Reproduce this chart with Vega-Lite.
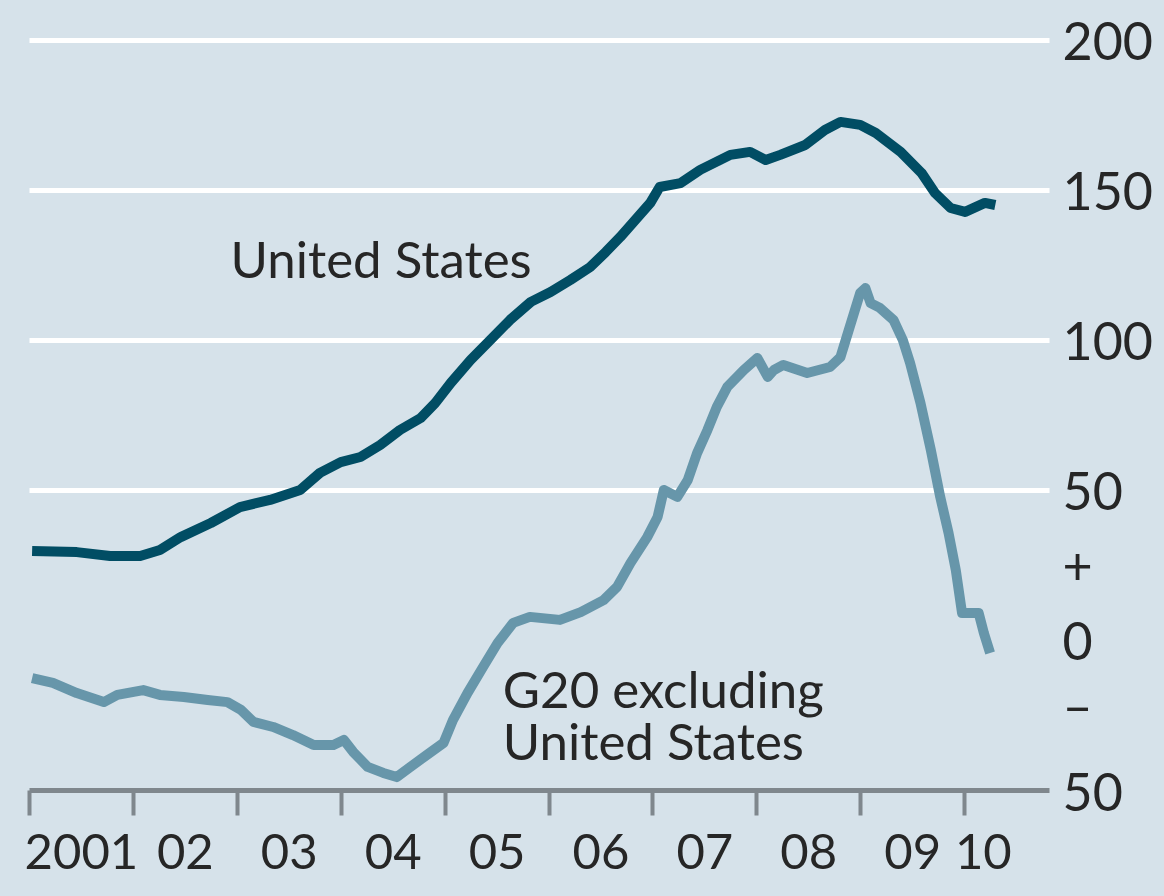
{
  "$schema": "https://vega.github.io/schema/vega-lite/v6.json",
  "width": 1020,
  "height": 790,
  "autosize": {"type": "none"},
  "padding": {"left": 29, "top": 0, "right": 115, "bottom": 106},
  "background": "#d6e2ea",
  "config": {"view": {"stroke": null}},
  "datasets": {
    "series": [
      {"series": "United States", "t": 2001.03, "v": 29.7},
      {"series": "United States", "t": 2001.46, "v": 29.3},
      {"series": "United States", "t": 2001.78, "v": 28.0},
      {"series": "United States", "t": 2002.07, "v": 28.0},
      {"series": "United States", "t": 2002.26, "v": 30.0},
      {"series": "United States", "t": 2002.46, "v": 34.3},
      {"series": "United States", "t": 2002.75, "v": 39.0},
      {"series": "United States", "t": 2003.03, "v": 44.3},
      {"series": "United States", "t": 2003.32, "v": 46.7},
      {"series": "United States", "t": 2003.61, "v": 50.0},
      {"series": "United States", "t": 2003.80, "v": 55.7},
      {"series": "United States", "t": 2004.00, "v": 59.3},
      {"series": "United States", "t": 2004.19, "v": 61.0},
      {"series": "United States", "t": 2004.38, "v": 65.0},
      {"series": "United States", "t": 2004.57, "v": 70.0},
      {"series": "United States", "t": 2004.77, "v": 74.0},
      {"series": "United States", "t": 2004.91, "v": 79.0},
      {"series": "United States", "t": 2005.06, "v": 85.7},
      {"series": "United States", "t": 2005.25, "v": 93.3},
      {"series": "United States", "t": 2005.44, "v": 100.0},
      {"series": "United States", "t": 2005.63, "v": 106.7},
      {"series": "United States", "t": 2005.83, "v": 112.7},
      {"series": "United States", "t": 2006.02, "v": 116.0},
      {"series": "United States", "t": 2006.21, "v": 120.0},
      {"series": "United States", "t": 2006.40, "v": 124.3},
      {"series": "United States", "t": 2006.55, "v": 129.3},
      {"series": "United States", "t": 2006.69, "v": 134.3},
      {"series": "United States", "t": 2006.98, "v": 145.7},
      {"series": "United States", "t": 2007.07, "v": 151.0},
      {"series": "United States", "t": 2007.27, "v": 152.3},
      {"series": "United States", "t": 2007.46, "v": 156.7},
      {"series": "United States", "t": 2007.75, "v": 161.7},
      {"series": "United States", "t": 2007.94, "v": 162.7},
      {"series": "United States", "t": 2008.09, "v": 160.0},
      {"series": "United States", "t": 2008.23, "v": 161.7},
      {"series": "United States", "t": 2008.47, "v": 165.0},
      {"series": "United States", "t": 2008.66, "v": 170.0},
      {"series": "United States", "t": 2008.81, "v": 172.7},
      {"series": "United States", "t": 2009.00, "v": 171.7},
      {"series": "United States", "t": 2009.15, "v": 169.0},
      {"series": "United States", "t": 2009.39, "v": 162.7},
      {"series": "United States", "t": 2009.59, "v": 155.7},
      {"series": "United States", "t": 2009.72, "v": 149.0},
      {"series": "United States", "t": 2009.87, "v": 144.0},
      {"series": "United States", "t": 2010.01, "v": 142.7},
      {"series": "United States", "t": 2010.11, "v": 144.3},
      {"series": "United States", "t": 2010.20, "v": 145.7},
      {"series": "United States", "t": 2010.30, "v": 145.0},
      {"series": "G20 excluding United States", "t": 2001.03, "v": -12.7},
      {"series": "G20 excluding United States", "t": 2001.23, "v": -14.3},
      {"series": "G20 excluding United States", "t": 2001.46, "v": -17.7},
      {"series": "G20 excluding United States", "t": 2001.72, "v": -20.7},
      {"series": "G20 excluding United States", "t": 2001.85, "v": -18.3},
      {"series": "G20 excluding United States", "t": 2002.10, "v": -16.7},
      {"series": "G20 excluding United States", "t": 2002.26, "v": -18.3},
      {"series": "G20 excluding United States", "t": 2002.49, "v": -19.0},
      {"series": "G20 excluding United States", "t": 2002.72, "v": -20.0},
      {"series": "G20 excluding United States", "t": 2002.91, "v": -20.7},
      {"series": "G20 excluding United States", "t": 2003.04, "v": -23.3},
      {"series": "G20 excluding United States", "t": 2003.16, "v": -27.3},
      {"series": "G20 excluding United States", "t": 2003.35, "v": -29.0},
      {"series": "G20 excluding United States", "t": 2003.54, "v": -31.7},
      {"series": "G20 excluding United States", "t": 2003.74, "v": -35.0},
      {"series": "G20 excluding United States", "t": 2003.93, "v": -35.0},
      {"series": "G20 excluding United States", "t": 2004.03, "v": -33.3},
      {"series": "G20 excluding United States", "t": 2004.12, "v": -37.3},
      {"series": "G20 excluding United States", "t": 2004.26, "v": -42.3},
      {"series": "G20 excluding United States", "t": 2004.41, "v": -44.3},
      {"series": "G20 excluding United States", "t": 2004.54, "v": -45.7},
      {"series": "G20 excluding United States", "t": 2004.67, "v": -42.3},
      {"series": "G20 excluding United States", "t": 2004.83, "v": -38.3},
      {"series": "G20 excluding United States", "t": 2004.99, "v": -34.3},
      {"series": "G20 excluding United States", "t": 2005.08, "v": -26.7},
      {"series": "G20 excluding United States", "t": 2005.22, "v": -17.7},
      {"series": "G20 excluding United States", "t": 2005.37, "v": -9.0},
      {"series": "G20 excluding United States", "t": 2005.51, "v": -1.0},
      {"series": "G20 excluding United States", "t": 2005.66, "v": 5.7},
      {"series": "G20 excluding United States", "t": 2005.82, "v": 7.7},
      {"series": "G20 excluding United States", "t": 2006.11, "v": 6.7},
      {"series": "G20 excluding United States", "t": 2006.31, "v": 9.3},
      {"series": "G20 excluding United States", "t": 2006.53, "v": 13.3},
      {"series": "G20 excluding United States", "t": 2006.66, "v": 17.7},
      {"series": "G20 excluding United States", "t": 2006.79, "v": 25.7},
      {"series": "G20 excluding United States", "t": 2006.95, "v": 34.3},
      {"series": "G20 excluding United States", "t": 2007.05, "v": 41.0},
      {"series": "G20 excluding United States", "t": 2007.11, "v": 50.0},
      {"series": "G20 excluding United States", "t": 2007.24, "v": 47.7},
      {"series": "G20 excluding United States", "t": 2007.34, "v": 53.3},
      {"series": "G20 excluding United States", "t": 2007.43, "v": 62.3},
      {"series": "G20 excluding United States", "t": 2007.53, "v": 70.0},
      {"series": "G20 excluding United States", "t": 2007.62, "v": 77.7},
      {"series": "G20 excluding United States", "t": 2007.72, "v": 84.3},
      {"series": "G20 excluding United States", "t": 2007.88, "v": 90.0},
      {"series": "G20 excluding United States", "t": 2008.01, "v": 94.0},
      {"series": "G20 excluding United States", "t": 2008.11, "v": 87.7},
      {"series": "G20 excluding United States", "t": 2008.17, "v": 90.0},
      {"series": "G20 excluding United States", "t": 2008.26, "v": 91.7},
      {"series": "G20 excluding United States", "t": 2008.49, "v": 89.0},
      {"series": "G20 excluding United States", "t": 2008.71, "v": 91.0},
      {"series": "G20 excluding United States", "t": 2008.81, "v": 94.3},
      {"series": "G20 excluding United States", "t": 2008.89, "v": 103.3},
      {"series": "G20 excluding United States", "t": 2009.00, "v": 115.7},
      {"series": "G20 excluding United States", "t": 2009.05, "v": 117.3},
      {"series": "G20 excluding United States", "t": 2009.10, "v": 112.3},
      {"series": "G20 excluding United States", "t": 2009.19, "v": 110.7},
      {"series": "G20 excluding United States", "t": 2009.32, "v": 106.7},
      {"series": "G20 excluding United States", "t": 2009.41, "v": 100.0},
      {"series": "G20 excluding United States", "t": 2009.48, "v": 92.3},
      {"series": "G20 excluding United States", "t": 2009.58, "v": 79.0},
      {"series": "G20 excluding United States", "t": 2009.68, "v": 63.3},
      {"series": "G20 excluding United States", "t": 2009.77, "v": 47.7},
      {"series": "G20 excluding United States", "t": 2009.85, "v": 35.7},
      {"series": "G20 excluding United States", "t": 2009.92, "v": 23.3},
      {"series": "G20 excluding United States", "t": 2009.98, "v": 9.0},
      {"series": "G20 excluding United States", "t": 2010.06, "v": 9.0},
      {"series": "G20 excluding United States", "t": 2010.14, "v": 9.0},
      {"series": "G20 excluding United States", "t": 2010.19, "v": 2.3},
      {"series": "G20 excluding United States", "t": 2010.25, "v": -4.3}
    ],
    "labels": [
      {"label": "United States", "t": 2002.94, "v": 120.7},
      {"label": "G20 excluding\nUnited States", "t": 2005.56, "v": -22.7}
    ]
  },
  "layer": [
    {
      "data": {"name": "series"},
      "mark": {"type": "line", "strokeWidth": 10, "strokeJoin": "round", "strokeCap": "butt"},
      "encoding": {
        "x": {
          "field": "t", "type": "quantitative",
          "scale": {"domain": [2001, 2010.817], "nice": false, "zero": false},
          "axis": {
            "title": null,
            "orient": "bottom",
            "values": [2001, 2001.5, 2002, 2002.5, 2003, 2003.5, 2004, 2004.5, 2005, 2005.5, 2006, 2006.5, 2007, 2007.5, 2008, 2008.5, 2009, 2009.5, 2010, 2010.18],
            "labelExpr": "datum.value == 2001.5 ? '2001' : (datum.value == 2010.18 ? '10' : (datum.value % 1 == 0.5 ? substring(toString(floor(datum.value)), 2, 4) : ''))",
            "grid": false,
            "domainColor": "#7f878d",
            "domainWidth": 5,
            "tickColor": "#7f878d",
            "tickWidth": 4,
            "tickSize": 25,
            "tickOpacity": {"condition": {"test": "datum.value % 1 == 0", "value": 1}, "value": 0},
            "labelFont": "Lato",
            "labelFontSize": 49,
            "labelColor": "#262626",
            "labelBaseline": "top",
            "labelAlign": "center",
            "labelPadding": 14,
            "labelOverlap": false,
            "labelBound": false,
            "labelFlush": false
          }
        },
        "y": {
          "field": "v", "type": "quantitative",
          "scale": {"domain": [-50, 213.33], "nice": false, "zero": false},
          "axis": {
            "title": null,
            "orient": "right",
            "values": [-50, -25, 0, 25, 50, 100, 150, 200],
            "labelExpr": "datum.value == 25 ? '+' : (datum.value == -25 ? '–' : toString(abs(datum.value)))",
            "domain": false,
            "ticks": false,
            "tickSize": 0,
            "grid": true,
            "gridColor": "#ffffff",
            "gridWidth": 5,
            "gridOpacity": {"condition": {"test": "datum.value >= 50", "value": 1}, "value": 0},
            "labelFont": "Lato",
            "labelFontSize": 52,
            "labelColor": "#262626",
            "labelAlign": "left",
            "labelBaseline": "middle",
            "labelOffset": {"condition": {"test": "datum.value == -25", "value": -6}, "value": 4},
            "labelPadding": 13,
            "labelOverlap": false,
            "labelBound": false,
            "labelFlush": false
          }
        },
        "color": {
          "field": "series", "type": "nominal",
          "scale": {"domain": ["United States", "G20 excluding United States"], "range": ["#014d64", "#6796aa"]},
          "legend": null
        }
      }
    },
    {
      "mark": {"type": "rule", "color": "#dc4a5a", "strokeWidth": 4},
      "encoding": {"y": {"datum": 0}}
    },
    {
      "data": {"name": "labels"},
      "mark": {"type": "text", "font": "Lato", "fontSize": 51, "align": "left", "baseline": "alphabetic", "lineBreak": "\n", "lineHeight": 52, "color": "#262626"},
      "encoding": {
        "x": {"field": "t", "type": "quantitative"},
        "y": {"field": "v", "type": "quantitative"},
        "text": {"field": "label"}
      }
    },
    {
      "mark": {"type": "rule", "color": "#7f878d", "strokeWidth": 4},
      "encoding": {"x": {"datum": 2010.34}, "y": {"datum": -50}, "y2": {"datum": -55.7}}
    }
  ]
}
